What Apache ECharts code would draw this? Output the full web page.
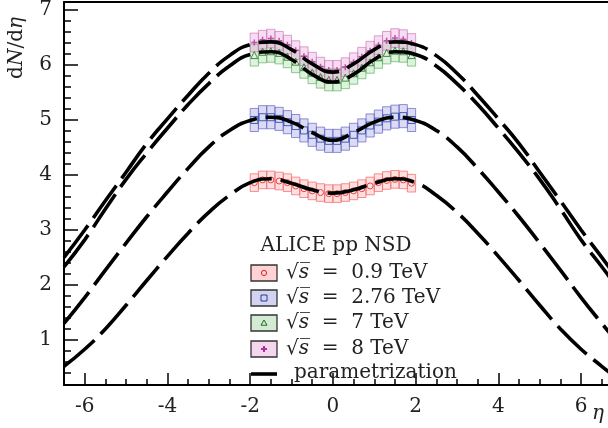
<!DOCTYPE html>
<html><head><meta charset="utf-8">
<script src="https://cdn.jsdelivr.net/npm/echarts@6/dist/echarts.min.js"></script>
<style>html,body{margin:0;padding:0;background:#fff}#c{width:608px;height:428px}</style>
</head><body><div id="c"></div>
<script>
// ---- data ----
const etaGrid = [-6.5, -6, -5.5, -5, -4.5, -4, -3.5, -3, -2.5, -2, -1.5, -1, -0.5, 0, 0.5, 1, 1.5, 2, 2.5, 3, 3.5, 4, 4.5, 5, 5.5, 6, 6.5, 6.7];
const param09  = [0.52, 0.83, 1.20, 1.63, 2.08, 2.52, 2.94, 3.32, 3.63, 3.86, 3.93, 3.85, 3.73, 3.67, 3.73, 3.85, 3.93, 3.86, 3.63, 3.32, 2.94, 2.52, 2.08, 1.63, 1.20, 0.83, 0.52, 0.40];
const param276 = [1.30, 1.77, 2.27, 2.76, 3.24, 3.69, 4.12, 4.51, 4.81, 4.99, 5.05, 4.96, 4.77, 4.63, 4.77, 4.96, 5.05, 4.99, 4.81, 4.51, 4.12, 3.69, 3.24, 2.76, 2.27, 1.77, 1.30, 1.12];
const param7   = [2.33, 2.82, 3.38, 3.92, 4.40, 4.85, 5.28, 5.66, 5.98, 6.19, 6.24, 6.10, 5.83, 5.69, 5.83, 6.10, 6.24, 6.19, 5.98, 5.66, 5.28, 4.85, 4.40, 3.92, 3.38, 2.82, 2.33, 2.13];
const param8   = [2.50, 3.00, 3.53, 4.05, 4.57, 5.02, 5.45, 5.85, 6.17, 6.37, 6.42, 6.28, 6.02, 5.87, 6.02, 6.28, 6.42, 6.37, 6.17, 5.85, 5.45, 5.02, 4.57, 4.05, 3.53, 3.00, 2.50, 2.30];

const binCenters = [-1.9, -1.7, -1.5, -1.3, -1.1, -0.9, -0.7, -0.5, -0.3, -0.1, 0.1, 0.3, 0.5, 0.7, 0.9, 1.1, 1.3, 1.5, 1.7, 1.9];
const data09  = [3.86, 3.91, 3.91, 3.89, 3.86, 3.80, 3.75, 3.71, 3.68, 3.66, 3.66, 3.68, 3.71, 3.75, 3.80, 3.86, 3.90, 3.92, 3.91, 3.85];
const sys09   = [0.16, 0.16, 0.16, 0.16, 0.16, 0.16, 0.16, 0.16, 0.16, 0.16, 0.16, 0.16, 0.16, 0.16, 0.16, 0.16, 0.16, 0.16, 0.16, 0.16];
const data276 = [5.00, 5.05, 5.05, 5.02, 4.96, 4.89, 4.81, 4.73, 4.66, 4.62, 4.62, 4.66, 4.73, 4.81, 4.90, 4.97, 5.03, 5.06, 5.07, 5.00];
const sys276  = [0.21, 0.21, 0.21, 0.21, 0.21, 0.21, 0.21, 0.21, 0.21, 0.21, 0.21, 0.21, 0.21, 0.21, 0.21, 0.21, 0.21, 0.21, 0.21, 0.21];
const data7   = [6.18, 6.24, 6.25, 6.22, 6.15, 6.06, 5.96, 5.86, 5.78, 5.73, 5.73, 5.77, 5.85, 5.95, 6.05, 6.14, 6.22, 6.26, 6.25, 6.18];
const sys7    = [0.20, 0.20, 0.20, 0.20, 0.20, 0.20, 0.20, 0.20, 0.20, 0.20, 0.20, 0.20, 0.20, 0.20, 0.20, 0.20, 0.20, 0.20, 0.20, 0.20];
const data8   = [6.41, 6.46, 6.48, 6.44, 6.37, 6.27, 6.16, 6.06, 5.97, 5.91, 5.91, 5.96, 6.05, 6.15, 6.26, 6.36, 6.44, 6.49, 6.47, 6.40];
const sys8    = [0.17, 0.17, 0.17, 0.17, 0.17, 0.17, 0.17, 0.17, 0.17, 0.17, 0.17, 0.17, 0.17, 0.17, 0.17, 0.17, 0.17, 0.17, 0.17, 0.17];

const xMajorTicks = [-6, -4, -2, 0, 2, 4, 6];
const xMinorTicks = [-5.5, -5, -4.5, -3.5, -3, -2.5, -1.5, -1, -0.5, 0.5, 1, 1.5, 2.5, 3, 3.5, 4.5, 5, 5.5, 6.5];
const yMajorTicks = [1, 2, 3, 4, 5, 6, 7];
const yMinorTicks = [0.4, 0.6, 0.8, 1.2, 1.4, 1.6, 1.8, 2.2, 2.4, 2.6, 2.8, 3.2, 3.4, 3.6, 3.8, 4.2, 4.4, 4.6, 4.8, 5.2, 5.4, 5.6, 5.8, 6.2, 6.4, 6.6, 6.8];

const legendTitle = 'ALICE pp NSD';
const legendLabels = ['0.9 TeV', '2.76 TeV', '7 TeV', '8 TeV'];
const paramLabel = 'parametrization';

// ---- styles ----
const FONT = '"DejaVu Serif", "Liberation Serif", serif';
const sets = [
  {vals: data09, sys: sys09, curve: param09, fill: 'rgba(255,110,110,0.22)', stroke: 'rgba(240,110,110,0.75)', mk: 'circle', mkColor: '#e02020', hollow: true, size: 6},
  {vals: data276, sys: sys276, curve: param276, fill: 'rgba(110,110,210,0.25)', stroke: 'rgba(100,100,200,0.7)', mk: 'rect', mkColor: '#2040a0', hollow: true, size: 7},
  {vals: data7, sys: sys7, curve: param7, fill: 'rgba(110,190,110,0.22)', stroke: 'rgba(100,180,100,0.7)', mk: 'triangle', mkColor: '#1f6e1f', hollow: true, size: 7},
  {vals: data8, sys: sys8, curve: param8, fill: 'rgba(220,120,200,0.25)', stroke: 'rgba(210,120,190,0.7)', mk: 'path://M3,0H5V3H8V5H5V8H3V5H0V3H3Z', mkColor: '#b0309a', hollow: false, size: 6}
];

const chart = echarts.init(document.getElementById('c'), null, {renderer: 'canvas'});
const series = [];
sets.forEach((s, i) => {
  series.push({
    type: 'custom', xAxisIndex: 0, yAxisIndex: 0, z: 2, silent: true,
    data: binCenters.map((x, k) => [x, s.vals[k], s.sys[k]]),
    renderItem: (params, api) => {
      const x = api.value(0), y = api.value(1), e = api.value(2);
      const p1 = api.coord([x - 0.1, y + e]);
      const p2 = api.coord([x + 0.1, y - e]);
      return {type: 'rect', shape: {x: p1[0], y: p1[1], width: p2[0] - p1[0], height: p2[1] - p1[1]},
        style: {fill: s.fill, stroke: s.stroke, lineWidth: 1}};
    }
  });
});
sets.forEach((s, i) => {
  series.push({
    type: 'scatter', xAxisIndex: 0, yAxisIndex: 0, z: 3, silent: true,
    symbol: s.mk, symbolSize: s.size,
    itemStyle: s.hollow ? {color: 'rgba(0,0,0,0)', borderColor: s.mkColor, borderWidth: 1} : {color: s.mkColor},
    data: binCenters.map((x, k) => [x, s.vals[k]])
  });
});
sets.forEach((s, i) => {
  series.push({
    type: 'line', xAxisIndex: 0, yAxisIndex: 0, z: 4, silent: true,
    smooth: 0.5, showSymbol: false, symbol: 'none',
    lineStyle: {color: '#000', width: 3.6, type: [40, 9]},
    data: etaGrid.map((x, k) => [x, s.curve[k]])
  });
});

const XMIN = -6.5, XMAX = 6.65, YMIN = 0.18, YMAX = 7.145;
const graphics = [];
// y axis title
graphics.push({type: 'text', x: 17, y: 48, rotation: Math.PI / 2, z: 10,
  style: {text: '{n|d}{i|N}{n|/d}{i|η}', align: 'center', verticalAlign: 'middle',
    rich: {n: {font: '20px ' + FONT, fill: '#222'}, i: {font: 'italic 20px ' + FONT, fill: '#222'}}}});
// x axis eta
graphics.push({type: 'text', x: 592, y: 414, z: 10,
  style: {text: 'η', font: 'italic 20px ' + FONT, fill: '#222', align: 'left', verticalAlign: 'middle'}});
// legend
graphics.push({type: 'text', x: 336, y: 246, z: 10,
  style: {text: legendTitle, font: '20px ' + FONT, fill: '#222', align: 'center', verticalAlign: 'middle'}});
const rowY = [273, 298, 323, 349];
sets.forEach((s, i) => {
  const cy = rowY[i];
  graphics.push({type: 'rect', z: 10, shape: {x: 251, y: cy - 8, width: 26, height: 16},
    style: {fill: s.fill.replace(/0\.2\d\)/, '0.3)'), stroke: '#333', lineWidth: 1.3}});
  const cx = 264;
  if (i === 0) graphics.push({type: 'circle', z: 11, shape: {cx, cy, r: 2.6}, style: {fill: 'none', stroke: s.mkColor, lineWidth: 1}});
  if (i === 1) graphics.push({type: 'rect', z: 11, shape: {x: cx - 3, y: cy - 3, width: 6, height: 6}, style: {fill: 'none', stroke: s.mkColor, lineWidth: 1}});
  if (i === 2) graphics.push({type: 'polygon', z: 11, shape: {points: [[cx, cy - 3], [cx + 3, cy + 2.2], [cx - 3, cy + 2.2]]}, style: {fill: 'none', stroke: s.mkColor, lineWidth: 1}});
  if (i === 3) graphics.push({type: 'polygon', z: 11, shape: {points: [[cx - 1, cy - 3], [cx + 1, cy - 3], [cx + 1, cy - 1], [cx + 3, cy - 1], [cx + 3, cy + 1], [cx + 1, cy + 1], [cx + 1, cy + 3], [cx - 1, cy + 3], [cx - 1, cy + 1], [cx - 3, cy + 1], [cx - 3, cy - 1], [cx - 1, cy - 1]]}, style: {fill: s.mkColor}});
  graphics.push({type: 'text', x: 286, y: cy, z: 10,
    style: {text: '{n|√}{i|s̅}{n|  =  ' + legendLabels[i] + '}', align: 'left', verticalAlign: 'middle',
      rich: {n: {font: '20px ' + FONT, fill: '#222'}, i: {font: 'italic 20px ' + FONT, fill: '#222'}}}});
});
graphics.push({type: 'line', z: 10, shape: {x1: 251, y1: 374, x2: 277, y2: 374}, style: {stroke: '#000', lineWidth: 3.6}});
graphics.push({type: 'text', x: 294, y: 373, z: 10,
  style: {text: paramLabel, font: '20px ' + FONT, fill: '#222', align: 'left', verticalAlign: 'middle'}});

const fmt = v => (v < 0 ? '-' + (-v) : String(v));
chart.setOption({
  animation: false,
  backgroundColor: '#fff',
  grid: {left: 64, right: 0, top: 2, bottom: 43, containLabel: false},
  xAxis: [
    {type: 'value', min: XMIN, max: XMAX, position: 'bottom',
      axisLine: {show: true, onZero: false, lineStyle: {color: '#000', width: 2}},
      axisTick: {show: true, inside: true, length: 12, customValues: xMajorTicks, lineStyle: {color: '#000', width: 1.5}},
      axisLabel: {show: true, customValues: xMajorTicks, formatter: fmt, margin: 12, color: '#222', fontSize: 20, fontFamily: FONT},
      splitLine: {show: false}},
    {type: 'value', min: XMIN, max: XMAX, position: 'bottom',
      axisLine: {show: false, onZero: false},
      axisTick: {show: true, inside: true, length: 6, customValues: xMinorTicks, lineStyle: {color: '#000', width: 1.5}},
      axisLabel: {show: false}, splitLine: {show: false}},
    {type: 'value', min: XMIN, max: XMAX, position: 'top',
      axisLine: {show: true, onZero: false, lineStyle: {color: '#000', width: 2}},
      axisTick: {show: false}, axisLabel: {show: false}, splitLine: {show: false}}
  ],
  yAxis: [
    {type: 'value', min: YMIN, max: YMAX, position: 'left',
      axisLine: {show: true, onZero: false, lineStyle: {color: '#000', width: 2}},
      axisTick: {show: true, inside: true, length: 14, customValues: yMajorTicks, lineStyle: {color: '#000', width: 1.5}},
      axisLabel: {show: true, customValues: yMajorTicks, margin: 12, color: '#222', fontSize: 20, fontFamily: FONT},
      splitLine: {show: false}},
    {type: 'value', min: YMIN, max: YMAX, position: 'left',
      axisLine: {show: false, onZero: false},
      axisTick: {show: true, inside: true, length: 7, customValues: yMinorTicks, lineStyle: {color: '#000', width: 1.5}},
      axisLabel: {show: false}, splitLine: {show: false}}
  ],
  series: series,
  graphic: graphics
});
</script></body></html>
